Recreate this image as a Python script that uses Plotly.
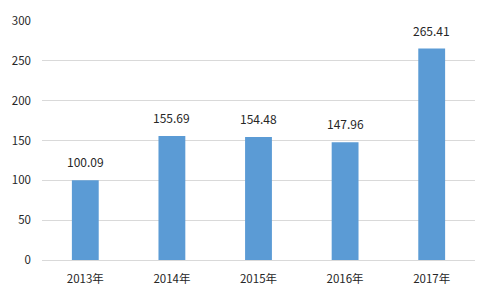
import plotly.graph_objects as go

categories = ["2013年", "2014年", "2015年", "2016年", "2017年"]
values = [100.09, 155.69, 154.48, 147.96, 265.41]
labels = ["100.09", "155.69", "154.48", "147.96", "265.41"]
y_ticks = [0, 50, 100, 150, 200, 250, 300]

font = "Noto Sans CJK SC, Open Sans, sans-serif"

fig = go.Figure()
fig.add_trace(go.Bar(
    x=categories, y=values,
    marker=dict(color="#5B9BD5", line=dict(width=0)),
    width=0.31,
))
for c, v, t in zip(categories, values, labels):
    fig.add_annotation(x=c, y=v, text=t, showarrow=False, yanchor="bottom",
                       yshift=8, font=dict(size=12, color="#262626", family=font))
fig.update_layout(
    width=490, height=298,
    margin=dict(l=40, r=15, t=16, b=37),
    paper_bgcolor="white", plot_bgcolor="white",
    showlegend=False,
    font=dict(family=font, size=11, color="#262626"),
)
fig.update_yaxes(range=[0, 300], tickvals=y_ticks, showgrid=True,
                 gridcolor="#D9D9D9", gridwidth=1, zeroline=False,
                 showline=False, ticks="", ticklabelstandoff=10,
                 tickfont=dict(size=11.5, color="#262626"))
fig.update_xaxes(showline=True, linecolor="#D9D9D9", linewidth=1,
                 ticks="", tickfont=dict(size=11.5, color="#262626"),
                 ticklabelstandoff=8)
fig.write_html("out.html")
